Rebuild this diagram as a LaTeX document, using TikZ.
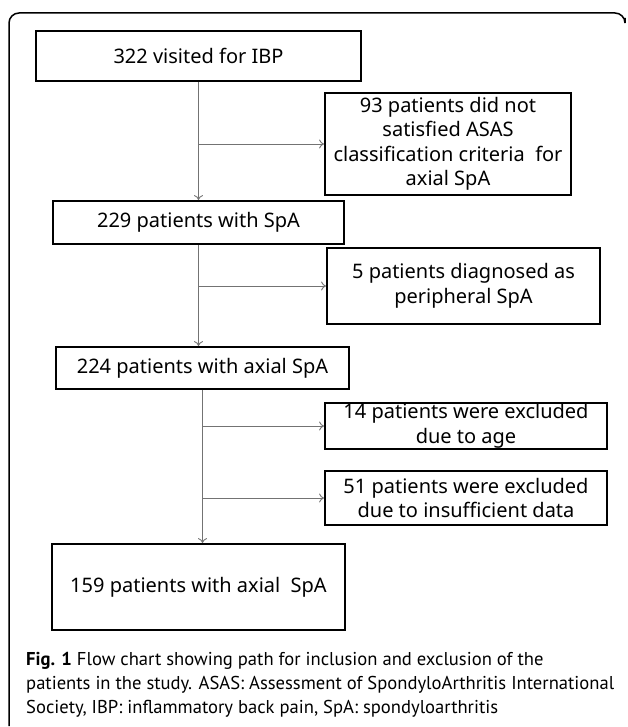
\documentclass[tikz,border=0pt]{standalone}
\usepackage{fontspec}
\setmainfont{Noto Sans}
\newfontfamily\capfont{PT Sans}
\usetikzlibrary{arrows.meta}
\tikzset{
  stage/.style={draw, line width=1.8pt, inner sep=0pt, align=center,
    font=\fontsize{20}{24.5}\selectfont},
  flow/.style={draw=black!55, line width=0.9pt, -{To[length=5pt,width=9pt]}}
}

\begin{document}
\begin{tikzpicture}[x=1pt,y=-1pt]
  \useasboundingbox (0,0) rectangle (627,727);
  % outer frame (only top and left edges are shown)
  \draw[line width=1.5pt, rounded corners=10pt] (9,726) -- (9,13) -- (625,13) -- (625,18);

  % stages
  \node[stage, minimum width=325pt, minimum height=50pt] (ibp) at (198.5,56) {322 visited for IBP};
  \node[stage, minimum width=246pt, minimum height=102pt] (noasas) at (448,144)
    {93 patients did not\\satisfied ASAS\\classification criteria\ \ for\\axial SpA};
  \node[stage, minimum width=291pt, minimum height=43pt] (spa) at (198.5,222.5) {229 patients with SpA};
  \node[stage, minimum width=273pt, minimum height=76pt] (periph) at (463.5,286)
    {5 patients diagnosed as\\peripheral SpA};
  \node[stage, minimum width=293pt, minimum height=42pt] (axial) at (202.5,368) {224 patients with axial SpA};
  \node[stage, minimum width=282pt, minimum height=46pt] (age) at (466,426)
    {14 patients were excluded\\due to age};
  \node[stage, minimum width=282pt, minimum height=54pt] (data) at (466,498)
    {51 patients were excluded\\due to insufficient data};
  \node[stage, minimum width=293pt, minimum height=86pt] (final) at (198.5,587) {159 patients with axial\ \ SpA};

  % main path
  \draw[flow] (ibp.south) -- (ibp.south |- spa.north);
  \draw[flow] (spa.south) -- (spa.south |- axial.north);
  \draw[flow] (axial.south) -- (axial.south |- final.north);
  % exclusions
  \draw[flow] (ibp.south |- noasas.west) -- (noasas.west);
  \draw[flow] (spa.south |- periph.west) -- (periph.west);
  \draw[flow] (axial.south |- age.west) -- (age.west);
  \draw[flow] (axial.south |- data.west) -- (data.west);

  % caption
  \node[anchor=base west, inner sep=0pt, align=left,
    font=\capfont\fontsize{18.6}{24}\selectfont] (caption) at (26,713)
    {\textbf{Fig. 1} Flow chart showing path for inclusion and exclusion of the\\
     patients in the study. ASAS: Assessment of SpondyloArthritis International\\
     Society, IBP: inflammatory back pain, SpA: spondyloarthritis};
\end{tikzpicture}
\end{document}
